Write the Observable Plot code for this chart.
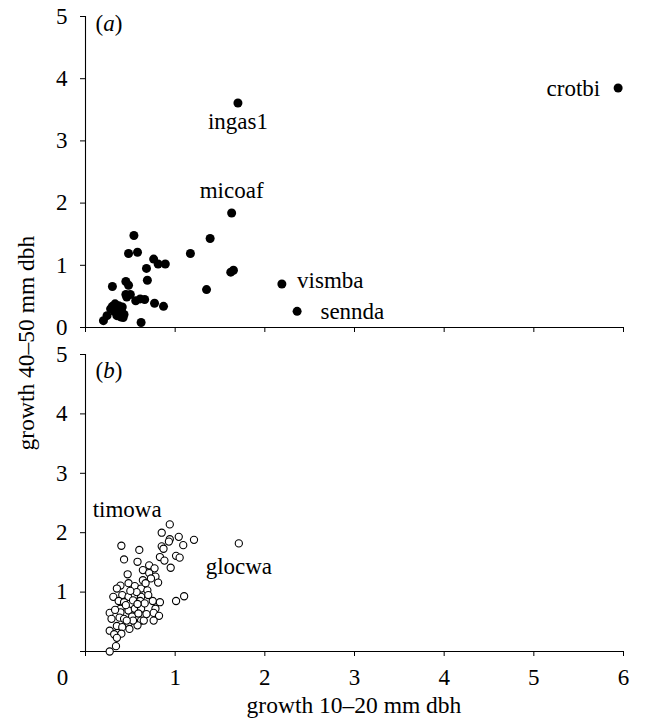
<!DOCTYPE html>
<html>
<head>
<meta charset="utf-8">
<script src="https://cdn.jsdelivr.net/npm/d3@7"></script>
<script src="https://cdn.jsdelivr.net/npm/@observablehq/plot@0.6"></script>
<style>
  html, body { margin: 0; padding: 0; background: #fff; }
  #fig { position: relative; width: 646px; height: 721px; font-family: "Liberation Serif", "Times New Roman", serif; color: #000; }
  #fig svg { position: absolute; left: 0; overflow: visible; }
  .title { position: absolute; font-size: 23.5px; line-height: 26px; text-align: center; white-space: nowrap; }
</style>
</head>
<body>
<div id="fig"></div>
<script>
// Panel (a): species growth, filled points
const aX = [5.94, 1.70, 1.63, 2.19, 2.36, 1.39, 1.17, 1.62, 1.65, 1.35,
            0.76, 0.81, 0.89, 0.68, 0.69, 0.48, 0.58, 0.45, 0.48, 0.30,
            0.45, 0.50, 0.56, 0.61, 0.66, 0.77, 0.87, 0.33, 0.37, 0.41,
            0.28, 0.32, 0.35, 0.39, 0.42, 0.24, 0.20, 0.62, 0.46, 0.36,
            0.40, 0.54, 0.43, 0.30];
const aY = [3.85, 3.61, 1.84, 0.70, 0.26, 1.43, 1.19, 0.89, 0.92, 0.61,
            1.10, 1.02, 1.02, 0.95, 0.76, 1.19, 1.21, 0.74, 0.68, 0.66,
            0.53, 0.53, 0.43, 0.46, 0.45, 0.39, 0.34, 0.38, 0.35, 0.33,
            0.30, 0.26, 0.19, 0.17, 0.16, 0.19, 0.11, 0.08, 0.49, 0.30,
            0.27, 1.48, 0.21, 0.34];

// Panel (b): species growth, open points
const bX = [1.71, 0.94, 0.85, 1.04, 0.94, 0.93, 1.21, 1.09, 0.85, 0.87,
            0.40, 0.60, 0.43, 0.58, 0.83, 0.88, 1.01, 1.05, 0.95, 1.10,
            1.01, 0.71, 0.64, 0.77, 0.71, 0.78, 0.47, 0.64, 0.73, 0.81,
            0.39, 0.48, 0.35, 0.55, 0.62, 0.69, 0.31, 0.41, 0.48, 0.55,
            0.62, 0.37, 0.43, 0.53, 0.61, 0.75, 0.83, 0.39, 0.48, 0.55,
            0.62, 0.66, 0.78, 0.27, 0.39, 0.29, 0.38, 0.43, 0.52, 0.59,
            0.62, 0.76, 0.82, 0.76, 0.65, 0.35, 0.41, 0.48, 0.58, 0.27,
            0.32, 0.40, 0.35, 0.49, 0.34, 0.27, 0.53, 0.46, 0.57, 0.67,
            0.45, 0.70, 0.58, 0.50, 0.68, 0.33];
const bY = [1.82, 2.14, 2.00, 1.93, 1.89, 1.85, 1.88, 1.79, 1.77, 1.73,
            1.78, 1.71, 1.55, 1.51, 1.59, 1.53, 1.61, 1.58, 1.41, 0.93,
            0.85, 1.45, 1.37, 1.40, 1.32, 1.26, 1.30, 1.20, 1.23, 1.16,
            1.11, 1.15, 1.06, 1.10, 1.06, 1.03, 0.92, 0.95, 0.92, 0.95,
            0.92, 0.85, 0.83, 0.86, 0.85, 0.85, 0.83, 0.72, 0.69, 0.72,
            0.72, 0.81, 0.72, 0.65, 0.66, 0.55, 0.57, 0.55, 0.59, 0.64,
            0.52, 0.65, 0.60, 0.52, 0.52, 0.43, 0.41, 0.47, 0.44, 0.35,
            0.29, 0.30, 0.23, 0.38, 0.09, 0.00, 0.52, 0.52, 1.00, 1.15,
            0.78, 0.95, 0.80, 1.02, 0.63, 0.70];

// Species labels (text placed in data units)
const labelsA = ["crotbi", "ingas1", "micoaf", "vismba", "sennda"];
const labelsAX = [5.74, 1.70, 1.63, 2.36, 2.62];
const labelsAY = [3.84, 3.31, 2.20, 0.76, 0.26];
const labelsAAnchor = ["end", "middle", "middle", "start", "start"];

const labelsB = ["timowa", "glocwa"];
const labelsBX = [0.08, 1.34];
const labelsBY = [2.39, 1.43];

const xTicks = [0, 1, 2, 3, 4, 5, 6];
const yTicks = [0, 1, 2, 3, 4, 5];
const xTitle = "growth 10–20 mm dbh";
const yTitle = "growth 40–50 mm dbh";

const ptsA = aX.map((x, i) => ({x, y: aY[i]}));
const ptsB = bX.map((x, i) => ({x, y: bY[i]}));
const labA = labelsA.map((t, i) => ({t, x: labelsAX[i], y: labelsAY[i], anchor: labelsAAnchor[i]}));
const labB = labelsB.map((t, i) => ({t, x: labelsBX[i], y: labelsBY[i]}));

const common = {
  width: 646,
  marginLeft: 85,
  marginRight: 23,
  x: {domain: [0, 6]},
  y: {domain: [0, 5]},
  style: {fontFamily: "'Liberation Serif', 'Times New Roman', serif", fontSize: "23px", color: "#000", background: "transparent"}
};

const plotA = Plot.plot({
  ...common,
  height: 345,
  marginTop: 16,
  marginBottom: 18,
  marks: [
    Plot.ruleX([0], {stroke: "#000", strokeWidth: 1.1}),
    Plot.ruleY([0], {stroke: "#000", strokeWidth: 1.1}),
    Plot.axisY({ticks: yTicks, tickSize: 5, tickPadding: 13, tickFormat: d => String(d), label: null, fontSize: 23}),
    Plot.axisX({ticks: xTicks, tickSize: 5, tickFormat: () => "", label: null}),
    Plot.dot(ptsA, {x: "x", y: "y", r: 4.5, fill: "#000", stroke: "none"}),
    Plot.text(labA.filter(d => d.anchor === "end"), {x: "x", y: "y", text: "t", textAnchor: "end", fontSize: 23}),
    Plot.text(labA.filter(d => d.anchor === "middle"), {x: "x", y: "y", text: "t", textAnchor: "middle", fontSize: 23}),
    Plot.text(labA.filter(d => d.anchor === "start"), {x: "x", y: "y", text: "t", textAnchor: "start", fontSize: 23}),
    Plot.text(["(a)"], {frameAnchor: "top-left", dx: 10, dy: 7, text: d => d, textAnchor: "start", lineAnchor: "middle", fontSize: 23})
  ]
});

const plotB = Plot.plot({
  ...common,
  height: 381,
  marginTop: 14,
  marginBottom: 70,
  marks: [
    Plot.ruleX([0], {stroke: "#000", strokeWidth: 1.1}),
    Plot.ruleY([0], {stroke: "#000", strokeWidth: 1.1}),
    Plot.axisY({ticks: yTicks, tickSize: 5, tickPadding: 13, tickFormat: d => d === 0 ? "" : String(d), label: null, fontSize: 23}),
    Plot.axisX({ticks: xTicks, tickSize: 5, tickPadding: 12, tickFormat: d => d === 0 ? "" : String(d), label: null, fontSize: 23}),
    Plot.text([0], {x: d => d, y: d => d, text: d => String(d), dx: -23, dy: 26, lineAnchor: "middle", fontSize: 23}),
    Plot.dot(ptsB, {x: "x", y: "y", r: 3.6, fill: "#fff", stroke: "#000", strokeWidth: 1.1}),
    Plot.text(labB, {x: "x", y: "y", text: "t", textAnchor: "start", fontSize: 23}),
    Plot.text(["(b)"], {frameAnchor: "top-left", dx: 10, dy: 16, text: d => d, textAnchor: "start", lineAnchor: "middle", fontSize: 23})
  ]
});

const fig = document.getElementById("fig");
plotA.style.top = "0px";
plotB.style.top = "340px";
fig.appendChild(plotA);
fig.appendChild(plotB);

// Italic panel letters inside upright parentheses
for (const [svg, letter] of [[plotA, "a"], [plotB, "b"]]) {
  d3.select(svg).selectAll("text")
    .filter(function () { return this.textContent === `(${letter})`; })
    .html(`(<tspan font-style="italic">${letter}</tspan>)`);
}

// Axis titles
const xt = document.createElement("div");
xt.className = "title";
xt.textContent = xTitle;
Object.assign(xt.style, {left: "204px", top: "692px", width: "300px"});
fig.appendChild(xt);

const yt = document.createElement("div");
yt.className = "title";
yt.textContent = yTitle;
Object.assign(yt.style, {left: "-124px", top: "330px", width: "300px", transform: "rotate(-90deg)"});
fig.appendChild(yt);
</script>
</body>
</html>
